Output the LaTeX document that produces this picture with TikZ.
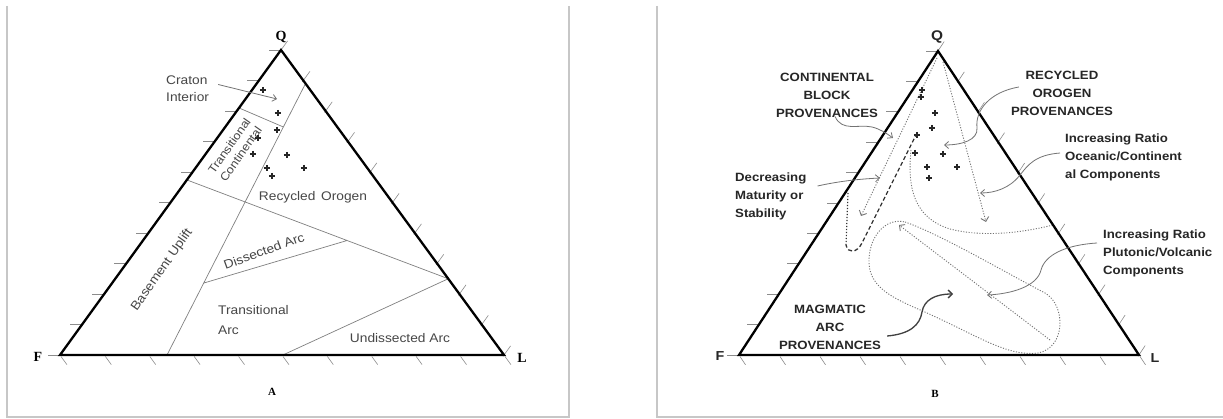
\documentclass[tikz,border=0pt]{standalone}
\usepackage{fontspec}
\setmainfont{Liberation Sans}[FakeStretch=1.1]
\newfontfamily\tnr{Liberation Serif}
\usetikzlibrary{arrows.meta,calc}
\begin{document}
\begin{tikzpicture}[x=1pt,y=-1pt,
  frame/.style={draw=black!22,line width=2pt},
  tri/.style={line width=2.3pt,line join=miter},
  tk/.style={black!45,line width=0.6pt},
  zone/.style={black!50,line width=0.7pt},
  lbl/.style={inner sep=0pt,text=black!72,font=\fontsize{12.5}{17}\selectfont},
  blbl/.style={inner sep=0pt,text=black!85,font=\bfseries\fontsize{12}{18}\selectfont},
  vtx/.style={inner sep=0pt,font=\tnr\bfseries\fontsize{14}{14}\selectfont},
  svtx/.style={inner sep=0pt,font=\bfseries\fontsize{14}{14}\selectfont,text=black!85},
  ptr/.style={black!55,line width=0.8pt,-{Straight Barb[length=4pt,width=7pt]}},
  dts/.style={black!55,line width=0.9pt,dash pattern=on 1.1pt off 1.6pt},
  dtsa/.style={dts,-{Straight Barb[length=4pt,width=8pt]}},
  pm/.style={black!85,line width=1.2pt}]
\path[use as bounding box,fill=white] (0,0) rectangle (1223,419);
% frames
\draw[frame] (7,6) -- (7,417) -- (569,417) -- (569,6);
\draw[frame] (657,6) -- (657,417) -- (1223,417);
% vertices
\coordinate (QA) at (281,50); \coordinate (FA) at (60,355); \coordinate (LA) at (504,355);
\coordinate (QB) at (938,51); \coordinate (FB) at (739,355); \coordinate (LB) at (1139,355);
% ticks
\foreach \i in {0,...,10}{
  \draw[tk] ($(QA)!\i/10!(FA)$) -- ++(-12,0);
  \draw[tk] ($(FA)!\i/10!(LA)$) ++(1,1.5) -- ++(5.9,8.1);
  \draw[tk] ($(QA)!\i/10!(LA)$) ++(-1,1.4) -- ++(7.6,-10.5);
  \draw[tk] ($(QB)!\i/10!(FB)$) -- ++(-12,0);
  \draw[tk] ($(FB)!\i/10!(LB)$) ++(1,1.5) -- ++(5.5,8.3);
  \draw[tk] ($(QB)!\i/10!(LB)$) ++(-1,1.4) -- ++(7.2,-10.9);
}
% ---------------- panel A fields
\coordinate (I1) at ($(QA)!0.11!(LA)$);
\coordinate (I2) at ($(FA)!0.241!(LA)$);
\coordinate (O1) at ($(QA)!0.426!(FA)$);
\coordinate (O2) at ($(QA)!0.75!(LA)$);
\coordinate (U1) at ($(FA)!0.502!(LA)$);
\coordinate (D1) at ($(I1)!0.735!(I2)$);
\coordinate (D2) at ($(O1)!0.613!(O2)$);
\coordinate (C1) at ($(QA)!0.19!(FA)$);
\coordinate (C2) at ($(I1)!0.16!(I2)$);
\draw[zone] (I1) -- (I2) (O1) -- (O2) -- (U1) (D1) -- (D2) (C1) -- (C2);
\draw[tri] (QA) -- (FA) -- (LA) -- cycle;
\node[vtx] (qa) at (281,37) {Q};
\node[vtx] (fa) at (38,357) {F};
\node[vtx] (la) at (522,358) {L};
\node[vtx,font=\tnr\bfseries\fontsize{11}{11}\selectfont] (aa) at (272,392) {A};
\node[lbl,anchor=west,align=left] (craton) at (166,88.5) {Craton\\Interior};
\coordinate (crtip) at (277,99);
\draw[ptr] ([shift={(9,-4)}]craton.east) -- (crtip);
\node[lbl,rotate=55,align=center,font=\fontsize{11.5}{14}\selectfont] (tcont) at (235,150) {Transitional\\Continental};
\node[lbl] (rorog) at (313,197) {Recycled\hspace{0.45em}Orogen};
\node[lbl,rotate=55] (bup) at (162,270) {Basement Uplift};
\node[lbl,rotate=20] (dis) at (264,251) {Dissected Arc};
\node[lbl,anchor=west,align=left,font=\fontsize{12.5}{20}\selectfont] (tarc) at (218,320) {Transitional\\Arc};
\node[lbl] (unarc) at (400,338) {Undissected Arc};
\foreach \x/\y in {263/90,278/113,277/130,258/138,253/154,287/155,267/168,272/176,304/168}
  \draw[pm] (\x-3.2,\y) -- (\x+3.2,\y) (\x,\y-3.2) -- (\x,\y+3.2);
% ---------------- panel B fields
\draw[dtsa] (937,58) -- (861,216);
\draw[dtsa] (943,62) -- (986,222);
\draw[black!80,line width=1.3pt,dash pattern=on 4pt off 2.5pt] (917,133) -- (862,243) .. controls (857,253) and (848,254) .. (846,245);
\draw[black!80,line width=1.2pt,dash pattern=on 1.2pt off 1.8pt] (846,245) -- (848,193);
\draw[dts] (911,150) .. controls (907,190) and (915,218) .. (950,229) .. controls (985,238) and (1025,232) .. (1053,225);
\draw[dts] (905,222) .. controls (940,234) and (1010,275) .. (1045,293) .. controls (1066,305) and (1066,348) .. (1038,353) .. controls (1008,357) and (978,336) .. (927,313) .. controls (898,300) and (870,290) .. (869,263) .. controls (868,238) and (885,217) .. cycle;
\draw[dtsa] (1050,340) -- (899,225);
\draw[tri] (QB) -- (FB) -- (LB) -- cycle;
\node[svtx] (qb) at (937,37) {Q};
\node[svtx,font=\bfseries\fontsize{13}{13}\selectfont] (fb) at (720,356) {F};
\node[svtx,font=\bfseries\fontsize{13}{13}\selectfont] (lb) at (1155,358) {L};
\node[vtx,font=\tnr\bfseries\fontsize{11}{11}\selectfont] (bb) at (935,394) {B};
\foreach \x/\y in {922/90,921/97,935/113,932/128,917/135,915/153,943/154,927/167,929/178,957/167}
  \draw[pm] (\x-3.2,\y) -- (\x+3.2,\y) (\x,\y-3.2) -- (\x,\y+3.2);
% labels
\node[blbl,align=center] (cbp) at (827,95) {CONTINENTAL\\BLOCK\\PROVENANCES};
\node[blbl,anchor=west,align=left] (dms) at (735,196) {Decreasing\\Maturity or\\Stability};
\node[blbl,align=center] (rop) at (1062,93) {RECYCLED\\OROGEN\\PROVENANCES};
\node[blbl,anchor=west,align=left] (iro) at (1065,157) {Increasing Ratio\\Oceanic/Continent\\al Components};
\node[blbl,anchor=west,align=left] (irp) at (1103,253) {Increasing Ratio\\Plutonic/Volcanic\\Components};
\node[blbl,align=center] (map) at (830,327) {MAGMATIC\\ARC\\PROVENANCES};
% pointers
\coordinate (cbtip) at (893,138);
\coordinate (dmtip) at (880,178);
\coordinate (rotip) at (944,145);
\coordinate (iotip) at (980,193);
\coordinate (iptip) at (987,295);
\coordinate (matip) at (953,294);
\draw[ptr] ([shift={(8,-1)}]cbp.south) .. controls (842,132) and (858,124) .. (872,127) .. controls (880,129) and (886,133) .. (cbtip);
\draw[ptr] ([shift={(11,-10)}]dms.east) .. controls (840,181) and (860,179) .. (dmtip);
\draw[ptr] ([shift={(8,-6)}]rop.west) .. controls (990,92) and (975,110) .. (977,128) .. controls (978,140) and (962,145) .. (rotip);
\draw[ptr] ([shift={(-5,-4)}]iro.west) .. controls (1035,155) and (1028,165) .. (1020,175) .. controls (1010,188) and (995,193) .. (iotip);
\draw[ptr] ([shift={(-6,-10)}]irp.west) .. controls (1065,245) and (1045,255) .. (1041,270) .. controls (1037,287) and (1010,294) .. (iptip);
\draw[black!75,line width=1.3pt,-{Straight Barb[length=4pt,width=8pt]}] ([shift={(6,9)}]map.east) .. controls (910,334) and (920,325) .. (922,312) .. controls (924,300) and (935,294) .. (matip);
\end{tikzpicture}
\end{document}
